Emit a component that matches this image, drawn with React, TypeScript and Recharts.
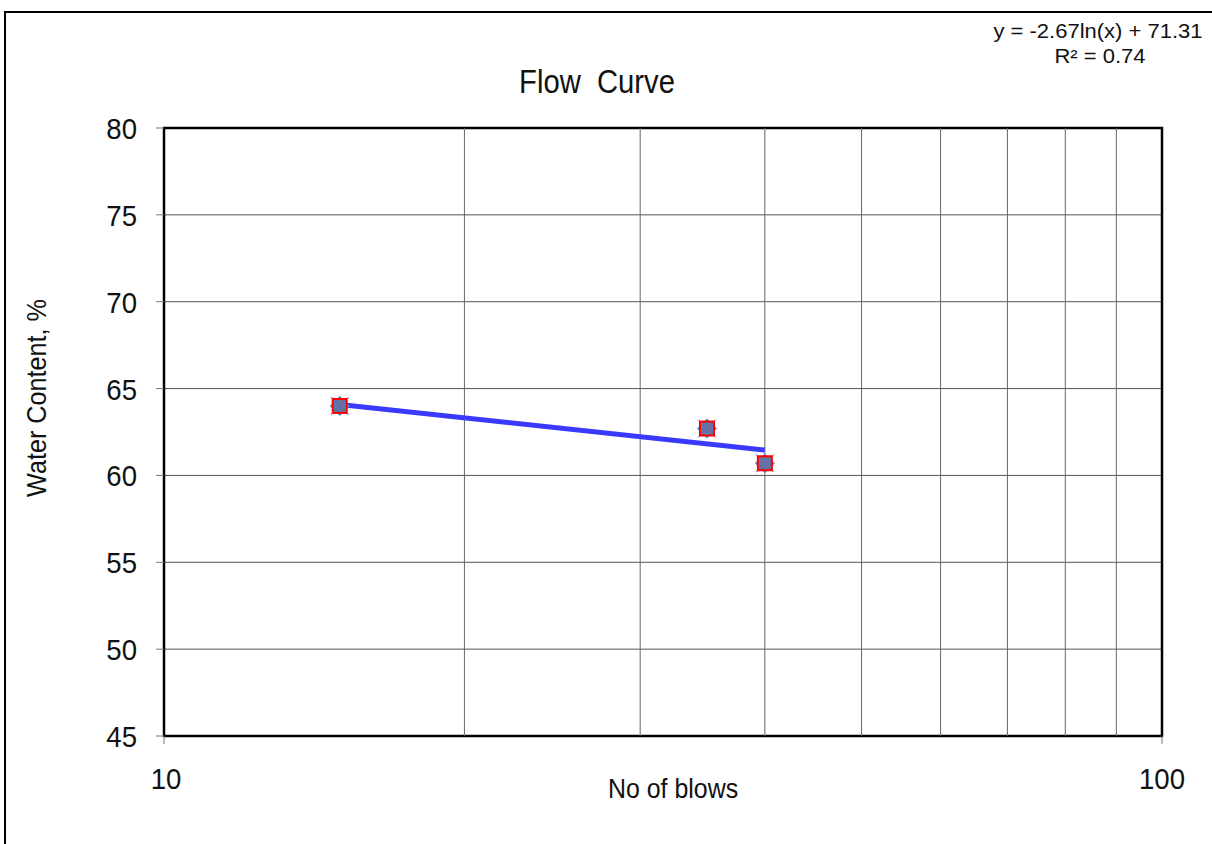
import {
  ReferenceArea,
  ReferenceLine,
  Scatter,
  ScatterChart,
  CartesianGrid,
  XAxis,
  YAxis,
} from "recharts";

// liquid limit test: blows vs. water content
const blows = [15, 35, 40];
const waterContent = [64.0, 62.7, 60.7];

// log trendline from the fitted equation
const trendA = -2.67;
const trendB = 71.31;
const trendX = [15, 40];

const yTicks = [45, 50, 55, 60, 65, 70, 75, 80];
const xTicks = [10, 100];
const xMinorGrid = [20, 30, 40, 50, 60, 70, 80, 90];

const points = blows.map((x, i) => ({ x, y: waterContent[i] }));
const trend = trendX.map((x) => ({ x, y: trendA * Math.log(x) + trendB }));

const FONT = "'Liberation Sans', Arial, sans-serif";

// condensed text: Liberation Sans squeezed horizontally
function NarrowText(props: {
  x: number;
  y: number;
  size: number;
  sx?: number;
  anchor?: "start" | "middle" | "end";
  rotate?: number;
  children: string;
}) {
  const { x, y, size, sx = 0.88, anchor = "middle", rotate = 0, children } = props;
  return (
    <text
      transform={`translate(${x},${y}) rotate(${rotate}) scale(${sx},1)`}
      textAnchor={anchor}
      fontSize={size}
      fill="#111"
      fontFamily={FONT}
      style={{ whiteSpace: "pre" }}
    >
      {children}
    </text>
  );
}

function YTick(props: any) {
  const { x, y, payload } = props;
  return (
    <NarrowText x={x} y={y + 11} size={30} sx={0.92} anchor="end">
      {String(payload.value)}
    </NarrowText>
  );
}

function XTick(props: any) {
  const { x, y, payload } = props;
  return (
    <NarrowText x={x + (payload.value === 10 ? 2 : 0)} y={y + 21} size={30} sx={0.92}>
      {String(payload.value)}
    </NarrowText>
  );
}

function PointMarker(props: any) {
  const { cx, cy } = props;
  if (cx == null || cy == null) return null;
  return (
    <g>
      <line x1={cx - 9} y1={cy - 9} x2={cx + 9} y2={cy + 9} stroke="#7a5aa8" strokeWidth={1} />
      <line x1={cx - 9} y1={cy + 9} x2={cx + 9} y2={cy - 9} stroke="#7a5aa8" strokeWidth={1} />
      <path
        d={`M${cx},${cy - 10} L${cx + 10},${cy} L${cx},${cy + 10} L${cx - 10},${cy} Z`}
        fill="#4f8fd0"
      />
      <rect x={cx - 7} y={cy - 7} width={14} height={14} fill="#5f76a6" stroke="#ff0000" strokeWidth={2} />
      <line x1={cx - 5} y1={cy - 5} x2={cx + 5} y2={cy + 5} stroke="#7a5aa8" strokeWidth={1} />
      <line x1={cx - 5} y1={cy + 5} x2={cx + 5} y2={cy - 5} stroke="#7a5aa8" strokeWidth={1} />
    </g>
  );
}

export default function App() {
  return (
    <div
      style={{
        position: "absolute",
        left: 0,
        top: 0,
        width: 1212,
        height: 844,
        overflow: "hidden",
        background: "#fff",
        fontFamily: FONT,
      }}
    >
      <ScatterChart
        width={1212}
        height={844}
        margin={{ top: 128, right: 50, bottom: 0, left: 0 }}
      >
        <CartesianGrid vertical={false} stroke="#555" strokeWidth={1} />
        {xMinorGrid.map((v) => (
          <ReferenceLine key={v} x={v} stroke="#666" strokeWidth={1} />
        ))}
        <XAxis
          dataKey="x"
          type="number"
          scale="log"
          domain={[10, 100]}
          ticks={xTicks}
          allowDataOverflow
          height={108}
          tickSize={8}
          tickMargin={24}
          axisLine={false}
          tickLine={{ stroke: "#777" }}
          tick={XTick}
        />
        <YAxis
          dataKey="y"
          type="number"
          domain={[45, 80]}
          ticks={yTicks}
          width={164}
          tickSize={8}
          tickMargin={19}
          axisLine={false}
          tickLine={{ stroke: "#777" }}
          tick={YTick}
        />
        <ReferenceArea
          x1={10}
          x2={100}
          y1={45}
          y2={80}
          fill="none"
          fillOpacity={0}
          stroke="#000"
          strokeWidth={2.5}
          ifOverflow="visible"
        />
        <Scatter
          data={trend}
          line={{ stroke: "#3a3aff", strokeWidth: 5 }}
          lineType="joint"
          shape={() => null}
          isAnimationActive={false}
        />
        <Scatter data={points} shape={PointMarker} isAnimationActive={false} />
      </ScatterChart>
      <svg
        width={1212}
        height={844}
        style={{ position: "absolute", left: 0, top: 0, pointerEvents: "none" }}
      >
        <rect x={5} y={12} width={1400} height={1000} fill="none" stroke="#000" strokeWidth={2} />
        <NarrowText x={597} y={93} size={34} sx={0.86}>
          {"Flow  Curve"}
        </NarrowText>
        <NarrowText x={1098} y={38} size={20} sx={1.1}>
          {"y = -2.67ln(x) + 71.31"}
        </NarrowText>
        <NarrowText x={1100} y={63} size={20} sx={1.1}>
          {"R² = 0.74"}
        </NarrowText>
        <NarrowText x={673} y={798} size={28} sx={0.89}>
          No of blows
        </NarrowText>
        <NarrowText x={46} y={398} size={28} sx={0.9} rotate={-90}>
          Water Content, %
        </NarrowText>
      </svg>
    </div>
  );
}
